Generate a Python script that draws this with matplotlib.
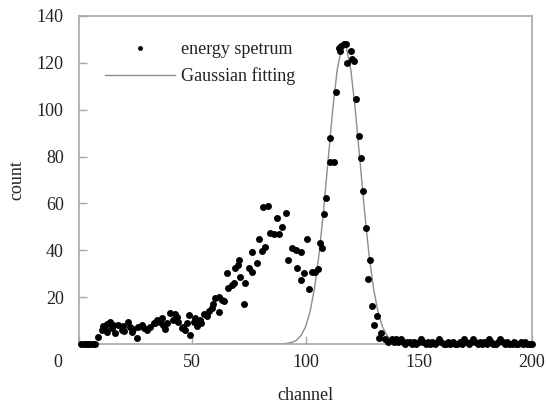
import numpy as np
import matplotlib
matplotlib.use("Agg")
import matplotlib.pyplot as plt
from matplotlib.transforms import ScaledTranslation

plt.rcParams['font.family'] = ['Liberation Serif', 'DejaVu Serif']
plt.rcParams['font.size'] = 13

spec_x = [1, 2, 3, 4, 5, 6, 7,
          8.3, 10, 10.8, 11.5, 12.2, 12.2, 13.7, 14.4, 15, 16, 17.4, 18.9, 19.5, 20,
          21.8, 22.6, 23.3, 24, 25.5, 26.2, 27.7, 28.5, 29.9, 31.4, 32.9, 33.5, 34.4,
          35.8, 36.5, 37.3, 38, 39, 40.3, 41.7, 42.5, 43.2,
          43.9, 45.4, 46.1, 46.9, 47.5, 48.4, 49.1, 50.6, 51.3, 52, 53.5, 54, 55, 56.5,
          57.3, 58.5, 59.3, 60.2,
          61.7, 62, 63.1, 64, 65.3, 66, 67.5, 68.3, 69, 70, 70.5, 71.2, 72.7, 73.4,
          74.9, 76.4,
          76.4, 78.6, 79.3, 80.8, 81.3, 82.3, 83.3, 84.5, 86, 87.5, 88.2, 89.6, 91.6,
          92.2, 94.1, 95.6, 96.3, 97.8, 98.1, 99.3, 100.5, 101.5, 102.9, 104.4, 105.5,
          106.5, 107.4, 108.3, 109.1, 111, 112.5, 111, 113.3, 115, 115.3, 115.5, 117,
          117.7, 118.4, 119.9, 120.6, 121.4, 122.4, 123.6, 124.3, 125.6, 126.5, 127.7,
          128.3, 129.5, 130.2, 131.7, 132.5, 133.2, 135, 136.5]
spec_y = [0, 0, 0, 0, 0, 0, 0,
          2.9, 6, 7.7, 6.5, 8.5, 5.3, 9.5, 6.7, 8, 4.5, 8.1, 6, 7.5, 5.5,
          9.5, 7.4, 5.3, 6.5, 2.4, 7.4, 8.1, 7, 6, 7.4, 8.8, 9, 10.2,
          9.5, 11, 8.1, 6.6, 9, 13.4, 10.2, 13, 11.7,
          9.5, 6.7, 7.4, 6, 9, 12.4, 4, 9.5, 11, 7.8, 10.2, 9, 13, 12,
          14, 15.5, 17, 19.5,
          13.8, 20, 18.8, 18.5, 30.2, 23.8, 25.2, 26, 32.3, 33.7, 35.8, 28.7, 16.9, 25.9,
          32.3, 30.9,
          39.4, 34.4, 44.8, 39.8, 58.3, 41.5, 58.9, 47.2, 47, 53.6, 47, 50.1, 55.8,
          35.8, 40.8, 40.3, 32.3, 27.3, 39.4, 30.2, 44.8, 23.3, 30.9, 30.9, 31.8,
          43, 40.8, 55.6, 62.4, 77.8, 77.8, 88, 107.7, 126.3, 125, 127.2, 128,
          128, 119.8, 125.2, 121.5, 120.8, 104.4, 88.8, 79.2, 65.2, 49.6, 27.7,
          35.8, 16.2, 8.1, 12, 2.4, 4.5, 2, 1]
tail_x = list(range(138, 201))
tail_y = [2, 1, 2, 1, 2, 1, 0, 1, 1, 0, 1, 0, 1, 2, 1, 0, 1, 0, 1, 0, 1, 2, 1, 0, 0, 1,
          0, 1, 0, 0, 1, 0, 2, 1, 0, 1, 2, 1, 0, 1, 0, 1, 0, 2, 1, 0, 0, 1, 2, 1, 0, 1,
          0, 0, 1, 0, 0, 1, 0, 1, 0, 0, 0]
spec_x = spec_x + tail_x
spec_y = spec_y + tail_y

# fitted curve
fit_x = [52, 60, 70, 80, 88, 90, 92, 94, 96, 98, 100, 102, 104, 106, 108, 110, 112,
         114, 116, 117, 118, 120, 122, 124, 126, 128, 130, 132, 134, 136, 138, 140,
         142, 144, 150]
fit_y = [0, 0, 0, 0, 0.03, 0.1, 0.3, 0.7, 1.6, 3.6, 7.3, 13.7, 23.9, 38.5, 57.3, 78.7,
         99.9, 117.1, 126.7, 128, 126.7, 117.1, 99.9, 78.7, 57.3, 38.5, 23.9, 13.7,
         7.3, 3.6, 1.6, 0.7, 0.3, 0.1, 0]

fig = plt.figure(figsize=(5.46, 4.07), dpi=100)
ax = fig.add_axes([79/546, 1 - 344/407, 453/546, 328/407])

ax.plot(fit_x, fit_y, color='#8c8c8c', lw=1.0, label='Gaussian fitting', zorder=2)
ax.plot(spec_x, spec_y, 'o', color='black', ms=5, mew=0, ls='none',
        label='energy spetrum', clip_on=False, zorder=3)

ax.set_xlim(0, 200)
ax.set_ylim(0, 140)
ax.set_xticks([0, 50, 100, 150, 200])
ax.set_yticks([20, 40, 60, 80, 100, 120, 140])

for s in ax.spines.values():
    s.set_color('#a8a8a8')
    s.set_linewidth(1.2)
ax.tick_params(direction='in', length=6, width=1, color='#a8a8a8',
               labelcolor='#222222', labelsize=13)
ax.tick_params(axis='x', pad=7)
ax.tick_params(axis='y', pad=11)

# the "0" label sits left of the corner in the original
lab0 = ax.get_xticklabels()[0]
lab0.set_transform(lab0.get_transform() + ScaledTranslation(-0.21, 0, fig.dpi_scale_trans))

ax.set_xlabel('channel', labelpad=12, color='#222222')
ax.set_ylabel('count', labelpad=8, color='#222222')

h, l = ax.get_legend_handles_labels()
ax.legend(h[::-1], l[::-1], loc='upper left', bbox_to_anchor=(0.057, 0.924),
          frameon=False, borderpad=0, borderaxespad=0, handlelength=3.9,
          handletextpad=0.3, labelspacing=0.5, markerscale=0.7, numpoints=1,
          fontsize=13, labelcolor='#222222')

fig.savefig('out.png', dpi=100)
